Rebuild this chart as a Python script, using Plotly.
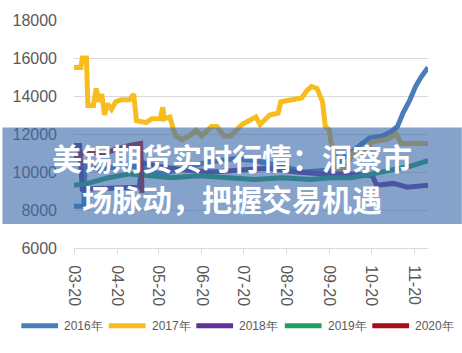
import plotly.graph_objects as go

YEAR = "2019-"

tick_labels = ["03-20", "04-20", "05-20", "06-20", "07-20", "08-20", "09-20", "10-20", "11-20"]
y_ticks = [6000, 8000, 10000, 12000, 14000, 16000, 18000]

d2016 = ["03-20", "03-27", "03-28", "04-09", "04-24", "05-09", "05-21", "06-03", "06-23", "07-13",
         "07-28", "08-17", "09-01", "09-21", "10-01", "10-11", "10-19", "10-28", "11-03", "11-08",
         "11-12", "11-17", "11-21", "11-25", "11-28", "11-30"]
v2016 = [8200, 8200, 10300, 10100, 10400, 10200, 9900, 10100, 10500, 10700,
         10600, 10300, 10000, 10100, 10800, 11400, 11800, 11900, 12100, 12400,
         13100, 13800, 14500, 15000, 15300, 15500]

d2017 = ["03-20", "03-25", "03-26", "03-29", "03-30", "04-03", "04-05", "04-07", "04-09", "04-11",
         "04-13", "04-16", "04-19", "04-23", "04-29", "05-02", "05-04", "05-11", "05-15", "05-21",
         "05-23", "05-24", "05-28", "05-30", "06-01", "06-06", "06-11", "06-16", "06-20", "06-27",
         "07-01", "07-06", "07-11", "07-19", "07-26", "07-29", "08-01", "08-08", "08-14", "08-16",
         "08-24", "08-31", "09-04", "09-07", "09-11", "09-15", "09-17", "09-20", "09-21", "09-24",
         "09-27", "10-02", "10-07", "10-14", "10-21", "10-31", "11-07", "11-11", "11-18", "11-30"]
v2017 = [15500, 15500, 16000, 16000, 13500, 13500, 14400, 13700, 14100, 13000,
         13600, 13300, 13700, 13800, 13800, 14100, 12700, 12600, 12800, 12800,
         13400, 12800, 12900, 12400, 11900, 11700, 11900, 12200, 11900, 12400,
         12400, 11900, 11900, 12500, 12800, 12900, 12500, 13000, 13100, 13700,
         13800, 13900, 14300, 14500, 14400, 13700, 12400, 12200, 11600, 11000,
         10000, 10300, 11000, 11000, 11600, 11700, 12000, 11500, 11500, 11500]

d2018 = ["03-20", "03-24", "03-26", "05-06", "05-08", "05-19", "06-08", "06-28", "07-18", "08-07",
         "08-27", "09-16", "10-06", "10-21", "10-24", "11-05", "11-15", "11-30"]
v2018 = [11400, 11400, 9100, 9200, 10500, 10300, 10100, 10000, 10100, 10200,
         10000, 9900, 9900, 9800, 9300, 9400, 9200, 9300]

d2019 = ["03-20", "03-30", "04-14", "04-29", "05-14", "05-29", "06-18", "07-08", "07-28", "08-17",
         "09-06", "09-21", "10-06", "10-21", "11-05", "11-17", "11-30"]
v2019 = [9300, 9400, 9700, 9900, 9800, 9700, 9800, 9700, 9600, 9700,
         9600, 9700, 9700, 9900, 10100, 10300, 10600]

d2020 = ["03-20", "03-30", "04-09", "04-19", "04-29", "05-07", "05-08"]
v2020 = [10800, 11100, 10900, 11200, 11400, 11500, 8900]

series = [
    ("2016年", d2016, v2016, "#4a7ebb"),
    ("2017年", d2017, v2017, "#f7bd1e"),
    ("2018年", d2018, v2018, "#5e3296"),
    ("2019年", d2019, v2019, "#1fa060"),
    ("2020年", d2020, v2020, "#a50f15"),
]

fig = go.Figure()
for name, dates, vals, col in series:
    fig.add_trace(go.Scatter(
        x=[YEAR + d for d in dates], y=vals, name=name, mode="lines",
        line=dict(color=col, width=5), showlegend=False,
    ))

W, H = 462, 353
L, R, T, B = 72, 34, 19, 105
pw, ph = W - L - R, H - T - B

def px_x(p):
    return (p - L) / pw

def px_y(p):
    return (H - B - p) / ph

shapes = [dict(
    type="rect", xref="paper", yref="paper", layer="above",
    x0=px_x(0), x1=px_x(W), y0=px_y(224), y1=px_y(127),
    fillcolor="rgba(62,108,172,0.63)", line=dict(width=0),
)]
annotations = [
    dict(text="<b>美锡期货实时行情：洞察市</b>", xref="paper", yref="paper",
         x=px_x(231), y=px_y(157), xanchor="center", yanchor="middle", showarrow=False,
         font=dict(family="Noto Sans CJK SC", size=30, color="white")),
    dict(text="<b>场脉动，把握交易机遇</b>", xref="paper", yref="paper",
         x=px_x(231), y=px_y(198), xanchor="center", yanchor="middle", showarrow=False,
         font=dict(family="Noto Sans CJK SC", size=30, color="white")),
]

# legend (drawn manually so that all five entries fit on one row)
legend_x = [17, 105, 193, 282, 370]
legend_y = 326
for (name, _, _, col), lx in zip(series, legend_x):
    shapes.append(dict(type="line", xref="paper", yref="paper", layer="above",
                       x0=px_x(lx + 2), x1=px_x(lx + 39), y0=px_y(legend_y), y1=px_y(legend_y),
                       line=dict(color=col, width=5)))
    annotations.append(dict(text=name, xref="paper", yref="paper", x=px_x(lx + 43),
                            y=px_y(legend_y), xanchor="left", yanchor="middle", showarrow=False,
                            font=dict(size=12, color="#595959"), xshift=0))

fig.update_layout(
    width=W, height=H,
    margin=dict(l=L, r=R, t=T, b=B),
    paper_bgcolor="white", plot_bgcolor="white",
    font=dict(family="Liberation Sans, Arial, sans-serif", color="#595959"),
    showlegend=False,
    xaxis=dict(
        type="date",
        range=[YEAR + "03-20", YEAR + "11-30"],
        tickvals=[YEAR + t for t in tick_labels],
        ticktext=tick_labels,
        tickangle=90,
        showgrid=False,
        showline=True, linecolor="#d9d9d9", linewidth=1,
        ticks="outside", ticklen=5, tickcolor="#d9d9d9",
        tickfont=dict(size=16, color="#595959"),
        ticklabelstandoff=8,
        zeroline=False,
        fixedrange=True,
    ),
    yaxis=dict(
        range=[6000, 18000],
        tickvals=y_ticks,
        ticktext=[str(v) for v in y_ticks],
        showgrid=True, gridcolor="#d9d9d9", gridwidth=1,
        zeroline=False, showline=False,
        tickfont=dict(size=16, color="#595959"),
        ticks="", ticklabelstandoff=16,
        fixedrange=True,
    ),
    shapes=shapes,
    annotations=annotations,
)

fig.write_html("out.html")
